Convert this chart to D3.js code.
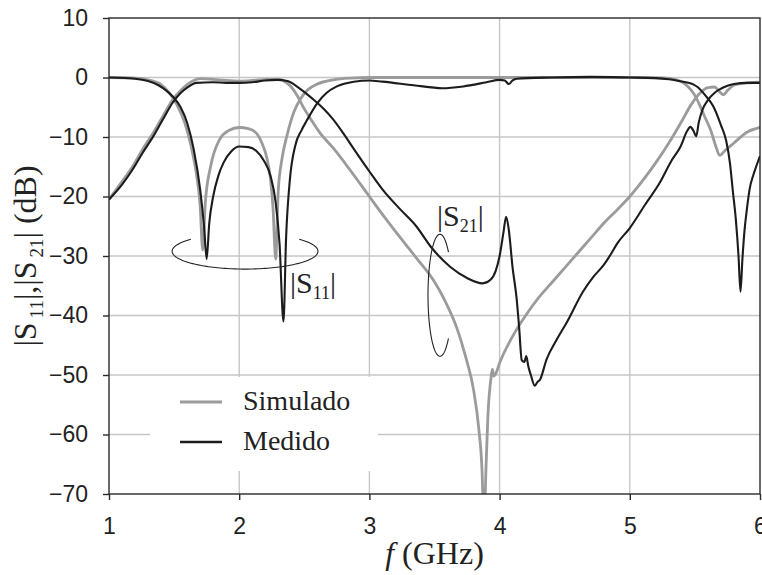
<!DOCTYPE html>
<html>
<head>
<meta charset="utf-8">
<script src="https://cdn.jsdelivr.net/npm/d3@7"></script>
<style>
  body { margin: 0; background: #fff; }
  .tick text { font-family: "Liberation Sans", Arial, sans-serif; font-size: 23px; fill: #222; }
  .serif { font-family: "Liberation Serif", "Times New Roman", serif; fill: #222; }
</style>
</head>
<body>
<svg width="762" height="575"></svg>
<script>
// Data: [frequency GHz, dB]
var simS21 = [
  [1.00,-20.5],[1.10,-17.5],[1.18,-15],[1.26,-12],[1.34,-9.3],[1.42,-6.3],[1.49,-3.7],[1.55,-2.2],
  [1.60,-1.2],[1.65,-0.5],[1.70,-0.2],[1.80,-0.3],[1.90,-0.5],[2.00,-0.6],[2.10,-0.5],[2.21,-0.3],
  [2.31,-0.3],[2.36,-0.8],[2.40,-1.6],[2.45,-3.2],[2.49,-4.9],[2.55,-7],[2.62,-9.3],[2.72,-11.8],
  [2.85,-15.5],[2.98,-19.4],[3.10,-23],[3.23,-26.7],[3.36,-30.3],[3.49,-34],[3.58,-37.5],[3.67,-42],
  [3.74,-47],[3.80,-52.5],[3.84,-59],[3.865,-66],[3.88,-76],[3.895,-66],[3.91,-57],[3.935,-50.3],
  [3.945,-49],[3.955,-50.2],[3.97,-49.8],[4.00,-48],[4.10,-43.5],[4.20,-40],[4.30,-37],[4.40,-34.5],
  [4.50,-32],[4.60,-29.5],[4.70,-27],[4.80,-24.5],[4.90,-22.3],[5.00,-20],[5.10,-17.3],[5.20,-14.3],
  [5.30,-11],[5.40,-7.3],[5.47,-4.6],[5.54,-2.6],[5.60,-1.7],[5.65,-1.6],[5.69,-2.4],[5.72,-2.9],
  [5.75,-2.2],[5.80,-1.3],[5.90,-0.9],[6.00,-0.8]
];

var measS21 = [
  [1.00,-20.5],[1.10,-18],[1.18,-15.5],[1.26,-12.6],[1.34,-9.9],[1.42,-6.8],[1.49,-4.2],[1.55,-2.6],
  [1.60,-1.7],[1.67,-0.9],[1.80,-0.8],[1.90,-0.9],[2.00,-0.9],[2.10,-0.8],[2.20,-0.5],[2.29,-0.4],
  [2.37,-0.6],[2.45,-1.6],[2.52,-2.8],[2.57,-3.7],[2.65,-5.3],[2.72,-7],[2.80,-9.4],[2.88,-12],
  [3.00,-15.8],[3.10,-18.8],[3.23,-22],[3.36,-25],[3.47,-28.4],[3.62,-31.8],[3.75,-33.7],[3.87,-34.6],
  [3.93,-34],[3.97,-32.5],[4.00,-30],[4.03,-26],[4.05,-23.4],[4.07,-25.5],[4.10,-32],[4.13,-37],
  [4.15,-42],[4.17,-47.5],[4.19,-47.8],[4.205,-46.8],[4.22,-48.5],[4.24,-50],[4.27,-51.8],[4.29,-51.2],
  [4.31,-50.8],[4.36,-47.4],[4.44,-44],[4.52,-41],[4.64,-36],[4.72,-33.5],[4.80,-31.5],[4.86,-29.5],
  [4.90,-28],[5.00,-25.3],[5.12,-21.3],[5.23,-17.7],[5.32,-14],[5.39,-11.6],[5.44,-9],[5.465,-8.3],
  [5.49,-9],[5.51,-9.9],[5.53,-7.5],[5.56,-5.3],[5.60,-3.8],[5.65,-2.6],[5.69,-2],[5.75,-1.4],
  [5.80,-1.1],[5.90,-0.9],[6.00,-0.9]
];

var simS11 = [
  [1.00,0],[1.20,-0.1],[1.30,-0.4],[1.40,-1.2],[1.46,-2.5],[1.52,-4.5],[1.58,-7.5],[1.63,-11.5],
  [1.67,-16],[1.70,-21.5],[1.72,-29],[1.74,-21],[1.78,-15],[1.85,-10.4],[1.92,-8.9],[2.00,-8.4],
  [2.07,-8.6],[2.13,-9.3],[2.18,-11.3],[2.21,-13.3],[2.24,-17],[2.26,-22],[2.28,-30.5],[2.30,-19],
  [2.33,-13.5],[2.37,-9.5],[2.42,-5.8],[2.47,-3.6],[2.53,-2],[2.60,-1.1],[2.72,-0.4],[2.85,-0.1],
  [3.00,0],[3.50,0],[4.00,0],[4.50,0],[5.00,0],[5.25,-0.05],[5.36,-0.4],[5.45,-1.6],[5.50,-3],
  [5.54,-4.8],[5.58,-6.8],[5.62,-8.8],[5.66,-11.5],[5.69,-13.1],[5.73,-12.3],[5.80,-11],
  [5.90,-9.2],[6.00,-8.4]
];

var measS11 = [
  [1.00,0],[1.20,-0.2],[1.30,-0.6],[1.38,-1.3],[1.44,-2.2],[1.49,-3.2],[1.55,-5],[1.60,-7.6],
  [1.65,-12],[1.70,-18.8],[1.73,-25],[1.75,-30.5],[1.77,-24.5],[1.80,-20],[1.84,-16.5],[1.88,-14.3],
  [1.94,-12.4],[2.00,-11.6],[2.07,-11.7],[2.13,-12.3],[2.19,-14],[2.24,-16.5],[2.28,-21],[2.31,-28],
  [2.34,-41],[2.36,-27],[2.39,-17],[2.43,-11.5],[2.48,-8.8],[2.52,-7.2],[2.60,-4.3],[2.67,-2.6],
  [2.75,-1.5],[2.88,-0.7],[3.00,-0.5],[3.10,-0.7],[3.34,-1.3],[3.56,-1.8],[3.72,-1.5],[3.90,-0.8],
  [4.00,-0.4],[4.04,-0.5],[4.07,-1.1],[4.10,-0.5],[4.13,-0.2],[4.40,0],[4.70,0.1],[5.00,0],
  [5.20,-0.1],[5.30,-0.3],[5.38,-0.6],[5.45,-0.9],[5.49,-1.2],[5.52,-1.6],[5.58,-3],[5.64,-4.8],
  [5.70,-8],[5.74,-10.6],[5.77,-14.5],[5.79,-18.8],[5.815,-24],[5.835,-30],[5.85,-36],[5.865,-30.5],
  [5.88,-26],[5.90,-22],[5.92,-18.8],[5.95,-16.3],[5.97,-15],[6.00,-13.2]
];

var xTicks = [1, 2, 3, 4, 5, 6];
var yTicks = [10, 0, -10, -20, -30, -40, -50, -60, -70];
var legendLabels = ['Simulado', 'Medido'];

var grayColor = '#9b9b9b', blackColor = '#1c1c1c';

var svg = d3.select('svg');
var svgWidth = +svg.attr('width');
var svgHeight = +svg.attr('height');

var padding = { t: 18, r: 2, b: 81, l: 109 };
var chartWidth = svgWidth - padding.l - padding.r;
var chartHeight = svgHeight - padding.t - padding.b;

var chartG = svg.append('g')
    .attr('transform', 'translate(' + [padding.l, padding.t] + ')');

// Scales
var xFreq = d3.scaleLinear().domain([1, 6]).range([0, chartWidth]);
var yDb = d3.scaleLinear().domain([-70, 10]).range([chartHeight, 0]);

// Grid
chartG.append('g').selectAll('line')
    .data(xTicks.slice(1, -1))
    .enter().append('line')
    .attr('x1', d => xFreq(d)).attr('x2', d => xFreq(d))
    .attr('y1', 0).attr('y2', chartHeight)
    .style('stroke', '#c6c6c6').style('stroke-width', 1.4);

chartG.append('g').selectAll('line')
    .data(yTicks.slice(1, -1))
    .enter().append('line')
    .attr('x1', 0).attr('x2', chartWidth)
    .attr('y1', d => yDb(d)).attr('y2', d => yDb(d))
    .style('stroke', '#c6c6c6').style('stroke-width', 1.4);

// white box behind the legend hides the grid there
chartG.append('rect')
    .attr('x', 41).attr('y', 359)
    .attr('width', 228).attr('height', 94)
    .attr('fill', '#fff');

// Curves
chartG.append('clipPath').attr('id', 'plotClip')
    .append('rect').attr('width', chartWidth).attr('height', chartHeight);

var line = d3.line()
    .x(d => xFreq(d[0]))
    .y(d => yDb(d[1]))
    .curve(d3.curveMonotoneX);

var curves = [
    { data: simS11, color: grayColor, width: 2.8 },
    { data: simS21, color: grayColor, width: 2.8 },
    { data: measS11, color: blackColor, width: 2.1 },
    { data: measS21, color: blackColor, width: 2.1 }
];

chartG.append('g').attr('clip-path', 'url(#plotClip)')
    .selectAll('path')
    .data(curves)
    .enter().append('path')
    .attr('d', d => line(d.data))
    .attr('fill', 'none')
    .attr('stroke', d => d.color)
    .attr('stroke-width', d => d.width)
    .attr('stroke-linejoin', 'round');

// Frame
chartG.append('rect')
    .attr('width', chartWidth).attr('height', chartHeight)
    .attr('fill', 'none')
    .attr('stroke', '#2a2a2a').attr('stroke-width', 1.4);

// Axes
var yAxis = d3.axisLeft(yDb).tickValues(yTicks).tickSize(6).tickSizeOuter(0).tickPadding(15)
    .tickFormat(d3.format('d'));
var xAxis = d3.axisBottom(xFreq).tickValues(xTicks).tickSize(6).tickSizeOuter(0).tickPadding(18)
    .tickFormat(d3.format('d'));

var gy = chartG.append('g').call(yAxis);
var gx = chartG.append('g').attr('transform', 'translate(0,' + chartHeight + ')').call(xAxis);
[gx, gy].forEach(function (g) {
    g.select('.domain').remove();
    g.selectAll('.tick line').attr('stroke', '#2a2a2a').attr('stroke-width', 1.4);
    g.selectAll('.tick text').attr('font-size', null).attr('font-family', null);
});

// text with subscripts: parts = [text, isSub, dx]
function richText(sel, parts, subSize, shift) {
    var down = false;
    parts.forEach(function (p) {
        var t = sel.append('tspan').text(p[0]);
        if (p[1] && !down) { t.attr('font-size', subSize).attr('dy', shift).attr('dx', p[2] || 0); down = true; }
        else if (!p[1] && down) { t.attr('dy', -shift); down = false; }
    });
}

// Y axis title
var yTitle = svg.append('text')
    .attr('class', 'serif')
    .attr('transform', 'translate(36,' + (padding.t + chartHeight / 2) + ') rotate(-90)')
    .attr('text-anchor', 'middle')
    .attr('font-size', 32);
richText(yTitle, [['|S'], ['11', true, 4], ['|,|S'], ['21', true, 4], ['| (dB)']], 19, 7);

// X axis title
var xTitle = svg.append('text')
    .attr('class', 'serif')
    .attr('x', padding.l + chartWidth / 2)
    .attr('y', 564)
    .attr('text-anchor', 'middle')
    .attr('font-size', 32);
xTitle.append('tspan').attr('font-style', 'italic').text('f');
xTitle.append('tspan').text(' (GHz)');

// Annotations: open ellipses and labels
function arcPoints(cf, cdb, rf, rdb, a0, a1) {
    return d3.range(a0, a1 + 0.1, 2).map(function (a) {
        var r = a * Math.PI / 180;
        return [xFreq(cf + rf * Math.cos(r)), yDb(cdb - rdb * Math.sin(r))];
    });
}
var annoLine = d3.line();
chartG.append('path')
    .attr('d', annoLine(arcPoints(2.045, -29.2, 0.56, 3.0, -42, 222)))
    .attr('fill', 'none').attr('stroke', '#222').attr('stroke-width', 1.1);
chartG.append('path')
    .attr('d', annoLine(arcPoints(3.542, -36.6, 0.092, 10.25, 45, 315)))
    .attr('fill', 'none').attr('stroke', '#222').attr('stroke-width', 1.1);

var s11Label = chartG.append('text').attr('class', 'serif')
    .attr('x', xFreq(2.39)).attr('y', yDb(-36.3)).attr('font-size', 30);
richText(s11Label, [['|S'], ['11', true], ['|']], 18, 6);

var s21Label = chartG.append('text').attr('class', 'serif')
    .attr('x', xFreq(3.52)).attr('y', yDb(-24.9)).attr('font-size', 30);
richText(s21Label, [['|S'], ['21', true], ['|']], 18, 6);

// Legend
var legend = chartG.append('g').attr('transform', 'translate(71,384)');
legend.selectAll('line')
    .data(legendLabels)
    .enter().append('line')
    .attr('x1', 0).attr('x2', 42)
    .attr('y1', (d, i) => i * 40).attr('y2', (d, i) => i * 40)
    .attr('stroke', (d, i) => i === 0 ? grayColor : blackColor)
    .attr('stroke-width', (d, i) => i === 0 ? 2.8 : 2.4);
legend.selectAll('text')
    .data(legendLabels)
    .enter().append('text')
    .attr('class', 'serif')
    .attr('x', 63)
    .attr('y', (d, i) => i * 40 + 8)
    .attr('font-size', 28)
    .text(d => d);
</script>
</body>
</html>
